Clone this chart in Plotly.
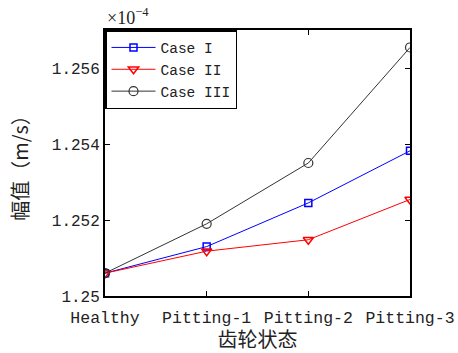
import plotly.graph_objects as go

categories = ["Healthy", "Pitting-1", "Pitting-2", "Pitting-3"]
case1 = [1.2506, 1.2513, 1.25245, 1.25382]
case2 = [1.2506, 1.25118, 1.25148, 1.25254]
case3 = [1.2506, 1.2519, 1.2535, 1.25654]
ytick_vals = [1.25, 1.252, 1.254, 1.256]
ytick_text = ["1.25", "1.252", "1.254", "1.256"]

x = list(range(len(categories)))
mono = "Liberation Mono, Noto Sans CJK SC"

fig = go.Figure()
fig.add_trace(go.Scatter(x=x, y=case1, name="Case I", mode="lines+markers",
                         line=dict(color="#0000ff", width=1),
                         marker=dict(symbol="square-open", size=7, color="#0000ff", line=dict(width=1.5))))
fig.add_trace(go.Scatter(x=x, y=case2, name="Case II", mode="lines+markers",
                         line=dict(color="#ff0000", width=1),
                         marker=dict(symbol="triangle-down-open", size=9, color="#ff0000", line=dict(width=1.5))))
fig.add_trace(go.Scatter(x=x, y=case3, name="Case III", mode="lines+markers",
                         line=dict(color="#333333", width=1),
                         marker=dict(symbol="circle-open", size=9, color="#333333", line=dict(width=1.2))))

fig.update_layout(
    width=458, height=353,
    margin=dict(l=105, r=48, t=30, b=57, autoexpand=False),
    paper_bgcolor="white", plot_bgcolor="white",
    font=dict(family=mono, size=15, color="#222"),
    showlegend=True,
    legend=dict(x=0, y=1, xanchor="left", yanchor="top",
                bgcolor="white", bordercolor="black", borderwidth=1.5,
                font=dict(family=mono, size=14.5), tracegroupgap=0,
                itemwidth=44),
    xaxis=dict(tickmode="array", tickvals=x, ticktext=categories, range=[0, 3],
               automargin=False,
               showgrid=False, zeroline=False, showline=True, linecolor="black", linewidth=2,
               mirror="ticks", ticks="inside", ticklen=5, tickcolor="black",
               ticklabelstandoff=5,
               tickfont=dict(family=mono, size=16.5),
               title=dict(text="齿轮状态", font=dict(family="Noto Sans CJK SC", size=20), standoff=2)),
    yaxis=dict(tickmode="array", tickvals=ytick_vals, ticktext=ytick_text, range=[1.25, 1.257],
               automargin=False,
               showgrid=False, zeroline=False, showline=True, linecolor="black", linewidth=2,
               mirror="ticks", ticks="inside", ticklen=5, tickcolor="black",
               tickfont=dict(family=mono, size=16),
               title=dict(text="幅值（m/s）", font=dict(family="Noto Sans CJK SC", size=20), standoff=18)),
    annotations=[dict(text="×10<sup>−4</sup>", x=0, y=1, xref="paper", yref="paper",
                      xanchor="left", yanchor="bottom", showarrow=False, yshift=0,
                      font=dict(family="Liberation Serif", size=18, color="#222"))],
)

fig.write_html("out.html")
